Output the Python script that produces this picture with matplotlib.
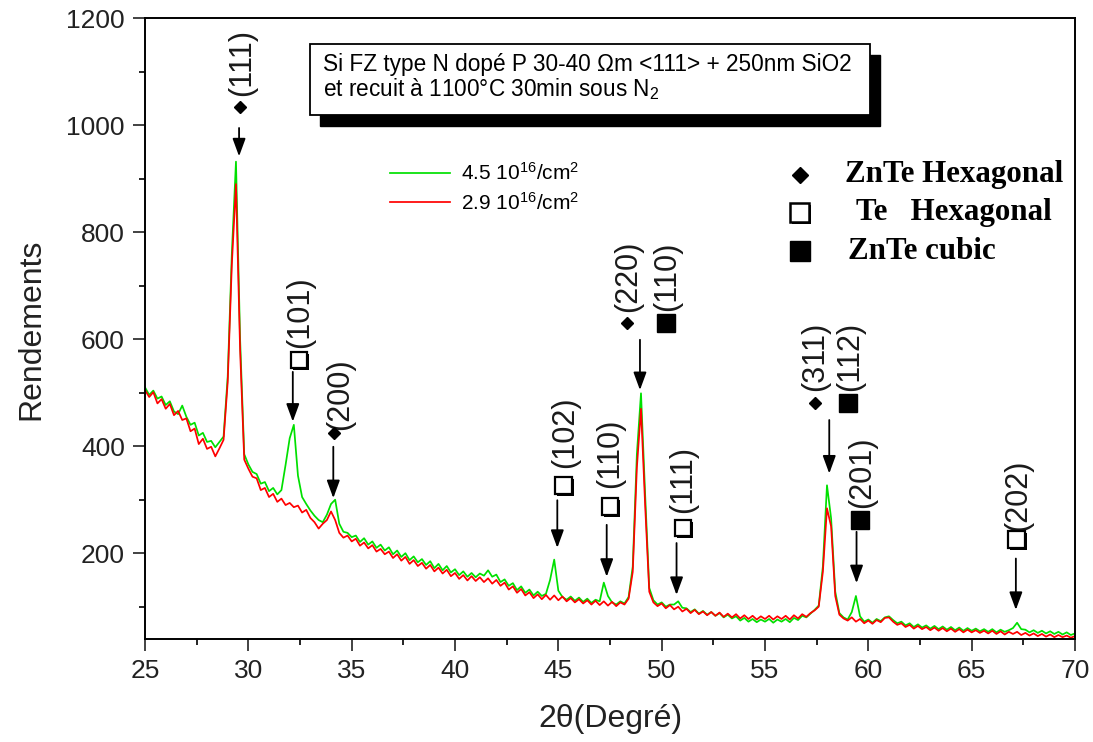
import numpy as np
import matplotlib
matplotlib.use('Agg')
import matplotlib.pyplot as plt
import matplotlib.patheffects as pe
from matplotlib.patches import Rectangle
from matplotlib.ticker import MultipleLocator

plt.rcParams['font.family'] = ['Liberation Sans', 'DejaVu Sans']
plt.rcParams['mathtext.fontset'] = 'custom'
plt.rcParams['mathtext.rm'] = 'Liberation Sans'
plt.rcParams['mathtext.it'] = 'Liberation Sans:italic'

# 2theta scan, one point every 0.2 degree from 25 to 70
two_theta = np.round(np.arange(25.0, 70.01, 0.2), 1)

# counts, 10 points (2 degrees) per row
counts_45 = [
    510, 496, 504, 489, 493, 477, 484, 465, 460, 476,   # 25
    455, 440, 444, 420, 425, 408, 410, 398, 408, 418,   # 27
    530, 760, 932, 600, 385, 366, 352, 348, 330, 333,   # 29
    316, 322, 310, 318, 365, 415, 440, 345, 305, 292,   # 31
    280, 270, 262, 258, 272, 292, 300, 255, 240, 238,   # 33
    230, 233, 221, 228, 216, 222, 210, 216, 205, 211,   # 35
    198, 205, 193, 200, 187, 194, 183, 189, 178, 185,   # 37
    172, 180, 168, 176, 164, 170, 159, 166, 156, 163,   # 39
    155, 162, 158, 168, 156, 160, 146, 151, 139, 144,   # 41
    131, 138, 126, 132, 121, 128, 120, 124, 150, 188,   # 43
    130, 118, 113, 119, 111, 117, 109, 115, 107, 113,   # 45
    110, 145, 120, 108, 104, 110, 106, 118, 175, 385,   # 47
    499, 310, 135, 112, 104, 108, 100, 104, 104, 110,   # 49
    98, 97, 90, 95, 87, 92, 85, 90, 83, 88,             # 51
    80, 85, 78, 82, 74, 79, 72, 77, 71, 76,             # 53
    72, 77, 70, 76, 72, 77, 71, 79, 75, 83,             # 55
    80, 87, 94, 102, 175, 327, 265, 128, 88, 80,        # 57
    76, 90, 120, 82, 72, 76, 70, 77, 73, 80,            # 59
    82, 75, 69, 72, 65, 69, 62, 67, 61, 65,             # 61
    59, 64, 58, 63, 57, 62, 56, 61, 55, 60,             # 63
    55, 59, 54, 58, 53, 58, 52, 57, 53, 56,             # 65
    60, 70, 58, 57, 52, 56, 51, 55, 50, 54,             # 67
    49, 53, 48, 52, 47, 50,                             # 69
]
counts_29 = [
    505, 492, 501, 480, 488, 470, 479, 458, 466, 449,   # 25
    452, 428, 433, 404, 414, 395, 399, 381, 396, 412,   # 27
    520, 740, 890, 580, 375, 358, 343, 340, 318, 322,   # 29
    305, 311, 296, 302, 290, 294, 286, 289, 276, 281,   # 31
    266, 258, 246, 255, 262, 278, 262, 238, 229, 233,   # 33
    222, 227, 214, 220, 209, 215, 203, 208, 198, 203,   # 35
    191, 198, 186, 193, 180, 187, 176, 182, 171, 178,   # 37
    166, 173, 162, 169, 157, 163, 152, 159, 149, 157,   # 39
    148, 155, 146, 153, 143, 150, 139, 145, 132, 138,   # 41
    126, 133, 121, 127, 116, 123, 114, 122, 113, 121,   # 43
    112, 119, 110, 116, 108, 114, 106, 112, 104, 111,   # 45
    103, 110, 102, 109, 101, 108, 104, 115, 165, 360,   # 47
    470, 290, 128, 108, 101, 106, 97, 103, 95, 100,     # 49
    91, 96, 88, 94, 86, 91, 84, 90, 83, 89,             # 51
    81, 87, 80, 86, 78, 84, 77, 83, 76, 82,             # 53
    77, 83, 76, 82, 77, 83, 76, 84, 78, 86,             # 55
    81, 88, 93, 100, 165, 284, 250, 120, 85, 78,        # 57
    74, 80, 72, 77, 69, 74, 68, 75, 71, 79,             # 59
    80, 72, 66, 69, 62, 66, 59, 64, 58, 62,             # 61
    56, 61, 55, 60, 54, 59, 53, 58, 52, 57,             # 63
    52, 56, 51, 55, 50, 55, 49, 54, 48, 53,             # 65
    49, 53, 47, 51, 46, 50, 45, 49, 44, 48,             # 67
    43, 47, 43, 46, 42, 45,                             # 69
]
series_labels = ['4.5 10$^{\\mathregular{16}}$/cm$^{\\mathregular{2}}$',
                 '2.9 10$^{\\mathregular{16}}$/cm$^{\\mathregular{2}}$']

# arrows: x, tail y, tip y
arrow_x = [29.55, 32.15, 34.11, 44.95, 47.34, 48.95, 50.72, 58.11, 59.43, 67.14]
arrow_tail = [995, 539, 399, 299, 253, 599, 219, 449, 240, 190]
arrow_tip = [942, 446, 303, 210, 156, 505, 122, 349, 144, 94]

# reflections: label, phase, marker x/y, label x/y
refl_label = ['(111)', '(101)', '(200)', '(102)', '(110)', '(220)', '(110)',
              '(111)', '(311)', '(112)', '(201)', '(202)']
refl_phase = ['hex', 'te', 'hex', 'te', 'te', 'hex', 'cub',
              'te', 'hex', 'cub', 'cub', 'te']
refl_mx = [29.60, 32.45, 34.16, 45.24, 47.50, 48.33, 50.21, 51.04, 57.41, 59.03, 59.59, 67.17]
refl_my = [1035, 561, 424, 327, 287, 630, 630, 247, 480, 480, 262, 225]
refl_lx = [29.69, 32.50, 34.43, 45.32, 47.50, 48.37, 50.25, 51.03, 57.41, 59.11, 59.69, 67.24]
refl_ly = [1117, 650, 497, 426, 386, 718, 718, 338, 568, 568, 351, 308]

phase_names = ['ZnTe Hexagonal', 'Te   Hexagonal', 'ZnTe cubic']

shadow = [pe.SimplePatchShadow(offset=(1.4, -1.4), shadow_rgbFace='k', alpha=1), pe.Normal()]
marker_style = {
    'hex': dict(marker='D', ms=6.5, mfc='k', mec='k'),
    'te': dict(marker='s', ms=12, mfc='white', mec='k', mew=1.6, path_effects=shadow),
    'cub': dict(marker='s', ms=13, mfc='k', mec='k'),
}

fig = plt.figure(figsize=(10.93, 7.42), dpi=100)
ax = fig.add_axes([0.1327, 0.1384, 0.8508, 0.8369])

l45, = ax.plot(two_theta, counts_45, color='#00e000', lw=1.25, label=series_labels[0])
l29, = ax.plot(two_theta, counts_29, color='#ff0000', lw=1.25, label=series_labels[1])

for x, y0, y1 in zip(arrow_x, arrow_tail, arrow_tip):
    ax.annotate('', xy=(x, y1), xytext=(x, y0),
                arrowprops=dict(arrowstyle='-|>,head_length=0.6,head_width=0.22',
                                color='k', lw=1.3, mutation_scale=18,
                                shrinkA=0, shrinkB=0))

for lab, ph, mx, my, lx, ly in zip(refl_label, refl_phase, refl_mx, refl_my, refl_lx, refl_ly):
    ax.plot(mx, my, ls='none', zorder=4, **marker_style[ph])
    ax.text(lx, ly, lab, rotation=90, ha='center', va='center', fontsize=22, color='#1a1a1a')

ax.set_xlim(25, 70)
ax.set_ylim(39, 1200)
ax.xaxis.set_major_locator(MultipleLocator(5))
ax.xaxis.set_minor_locator(MultipleLocator(2.5))
ax.yaxis.set_major_locator(MultipleLocator(200))
ax.yaxis.set_minor_locator(MultipleLocator(100))
ax.set_yticks([200, 400, 600, 800, 1000, 1200])
ax.tick_params(which='major', length=8.5, width=1.2, labelsize=19, pad=6, colors='#222222')
ax.tick_params(which='minor', length=4.5, width=1.2)
for s in ax.spines.values():
    s.set_linewidth(1.4)

ax.set_xlabel('2θ(Degré)', fontsize=23, labelpad=15, color='#222222')
ax.set_ylabel('Rendements', fontsize=23, labelpad=14, color='#222222')

# info box with drop shadow
bx, by, bw, bh = 0.177, 0.844, 0.603, 0.114
ax.add_patch(Rectangle((bx + 0.0108, by - 0.0177), bw, bh, transform=ax.transAxes,
                       facecolor='k', edgecolor='k', zorder=6))
ax.add_patch(Rectangle((bx, by), bw, bh, transform=ax.transAxes,
                       facecolor='white', edgecolor='k', lw=1.3, zorder=7))
ax.text(0.191, 0.926, 'Si FZ type N dopé P 30-40 Ωm <111> + 250nm SiO2',
        transform=ax.transAxes, fontsize=16.3, va='center', ha='left', zorder=8)
ax.text(0.191, 0.886, 'et recuit à 1100°C 30min sous N$_{\\mathregular{2}}$',
        transform=ax.transAxes, fontsize=16.3, va='center', ha='left', zorder=8)

ax.legend(handles=[l45, l29], loc='upper left', bbox_to_anchor=(0.263, 0.768),
          frameon=False, fontsize=15, handlelength=2.9, handletextpad=0.55,
          labelspacing=0.35, borderpad=0, borderaxespad=0)

# phase key on the right
key_y = [0.748, 0.687, 0.625]
key_tx = [0.753, 0.765, 0.756]
key_style = [dict(marker='D', ms=8, mfc='k', mec='k'),
             dict(marker='s', ms=14, mfc='white', mec='k', mew=1.8, path_effects=shadow),
             dict(marker='s', ms=14, mfc='k', mec='k')]
for name, ky, tx, st in zip(phase_names, key_y, key_tx, key_style):
    ax.plot(0.704, ky, transform=ax.transAxes, ls='none', clip_on=False, **st)
    ax.text(tx, ky, name, transform=ax.transAxes, va='center', ha='left',
            fontsize=22.3, fontweight='bold', family='Liberation Serif')

fig.savefig('out.png', dpi=100)
